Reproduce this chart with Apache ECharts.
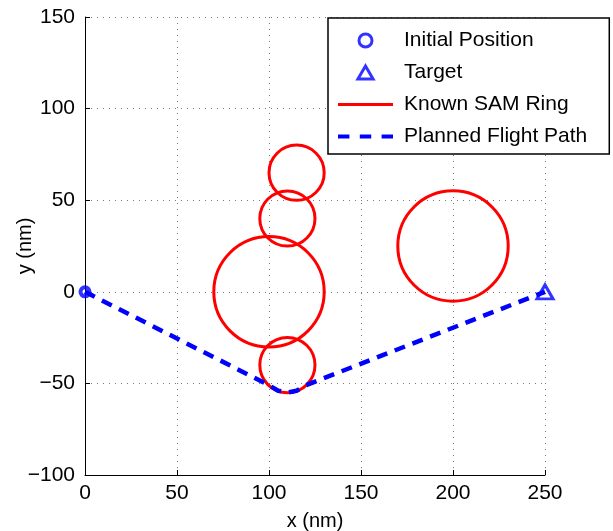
<!DOCTYPE html>
<html>
<head>
<meta charset="utf-8">
<script src="https://cdn.jsdelivr.net/npm/echarts@6/dist/echarts.min.js"></script>
<style>
  html, body { margin: 0; padding: 0; background: #fff; }
  #chart { width: 613px; height: 531px; }
</style>
</head>
<body>
<div id="chart"></div>
<script>
// SAM rings: centre x, centre y, radius (nm)
var ringX = [100, 110, 110, 115, 200];
var ringY = [0, -40, 40, 65, 25];
var ringR = [30, 15, 15, 15, 30];

// planned flight path waypoints (hugs the bottom of the lower ring)
var pathX = [0, 100, 105, 110, 115, 120, 250];
var pathY = [0, -51, -54, -55, -54, -51, 0];

var startPos = [0, 0];
var targetPos = [250, 0];

var xRange = [0, 250];
var yRange = [-100, 150];
var tickStep = 50;

var FONT = '"Liberation Sans", Arial, Helvetica, sans-serif';
var BLUE = '#0000ff';
var RED = '#ff0000';

var chart = echarts.init(document.getElementById('chart'));

var rings = ringX.map(function (x, i) { return [x, ringY[i], ringR[i]]; });
var path = pathX.map(function (x, i) { return [x, pathY[i]]; });

function minusSign(v) {
  return String(v).replace('-', '\u2212');
}

var axisCommon = {
  interval: tickStep,
  nameMoveOverlap: false,
  axisLine: { onZero: false, lineStyle: { color: '#000', width: 1 } },
  axisTick: { inside: true, length: 5, lineStyle: { color: '#000' } },
  splitLine: { show: true, lineStyle: { color: '#777', type: [1, 5], width: 1 } },
  nameTextStyle: { color: '#000', fontSize: 20, fontFamily: FONT },
  axisLabel: { color: '#000', fontSize: 21, fontFamily: FONT, formatter: minusSign }
};

var hollow = { color: 'rgba(255,255,255,0)', borderColor: BLUE, borderWidth: 3 };

// legend icons (shapes only)
var triIcon = 'path://M7,0L14,12H0Z';
var ringIcon = 'path://M0,0H55V3H0Z';
var dashIcon = 'path://M0,0H11V4H0Z M21,0H32V4H21Z M42,0H53V4H42Z';

var option = {
  animation: false,
  backgroundColor: '#fff',
  grid: { left: 85, right: 68, top: 17, bottom: 56, outerBoundsMode: 'none', containLabel: false },
  xAxis: Object.assign({}, axisCommon, {
    type: 'value', min: xRange[0], max: xRange[1],
    name: 'x (nm)', nameLocation: 'middle', nameGap: 36,
    axisLabel: Object.assign({}, axisCommon.axisLabel, { margin: 8 })
  }),
  yAxis: Object.assign({}, axisCommon, {
    type: 'value', min: yRange[0], max: yRange[1],
    name: 'y (nm)', nameLocation: 'middle', nameGap: 50,
    axisLabel: Object.assign({}, axisCommon.axisLabel, { margin: 10 })
  }),
  legend: {
    orient: 'vertical',
    left: 328, top: 18,
    padding: [12, 22, 7, 10],
    itemWidth: 55, itemHeight: 13, itemGap: 11,
    symbolKeepAspect: true,
    borderColor: '#000', borderWidth: 1.5,
    backgroundColor: '#fff',
    textStyle: { color: '#000', fontSize: 21, fontFamily: FONT, padding: [0, 0, 0, 6] },
    data: [
      { name: 'Initial Position', icon: 'circle', itemStyle: hollow },
      { name: 'Target', icon: triIcon, itemStyle: hollow },
      { name: 'Known SAM Ring', icon: ringIcon, itemStyle: { color: RED, borderWidth: 0 } },
      { name: 'Planned Flight Path', icon: dashIcon, itemStyle: { color: BLUE, borderWidth: 0 } }
    ]
  },
  series: [
    {
      name: 'Known SAM Ring',
      type: 'custom',
      color: RED,
      data: rings,
      encode: { x: 0, y: 1 },
      renderItem: function (params, api) {
        var c = api.coord([api.value(0), api.value(1)]);
        var r = api.size([api.value(2), 0])[0];
        return {
          type: 'circle',
          shape: { cx: c[0], cy: c[1], r: r },
          style: { fill: 'none', stroke: RED, lineWidth: 3 }
        };
      },
      z: 2
    },
    {
      name: 'Planned Flight Path',
      type: 'line',
      data: path,
      symbol: 'none',
      color: BLUE,
      lineStyle: { color: BLUE, width: 4.5, type: [11, 8] },
      z: 3
    },
    {
      name: 'Initial Position',
      type: 'scatter',
      data: [startPos],
      symbol: 'circle',
      symbolSize: 9,
      color: BLUE,
      itemStyle: Object.assign({}, hollow, { borderWidth: 4 }),
      z: 4
    },
    {
      name: 'Target',
      type: 'scatter',
      data: [targetPos],
      symbol: triIcon,
      symbolSize: [16, 14],
      color: BLUE,
      itemStyle: hollow,
      z: 4
    }
  ]
};

chart.setOption(option);
</script>
</body>
</html>
